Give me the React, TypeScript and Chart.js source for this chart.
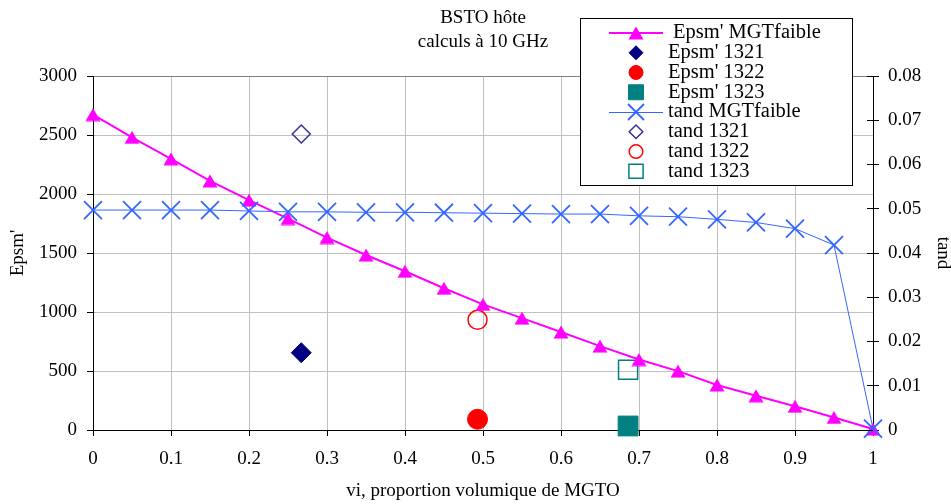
import React, { useEffect, useRef } from 'react';
import { Chart, registerables } from 'chart.js';

Chart.register(...registerables);

// ---------- data ----------
const titleLines = ['BSTO hôte', 'calculs à 10 GHz'];
const xTitle = 'vi, proportion volumique de MGTO';
const yLeftTitle = "Epsm'";
const yRightTitle = 'tand';

const seriesLabels = [
  "Epsm' MGTfaible",
  "Epsm' 1321",
  "Epsm' 1322",
  "Epsm' 1323",
  'tand MGTfaible',
  'tand 1321',
  'tand 1322',
  'tand 1323',
];

const xMGT = [0, 0.05, 0.1, 0.15, 0.2, 0.25, 0.3, 0.35, 0.4, 0.45, 0.5, 0.55, 0.6, 0.65, 0.7, 0.75, 0.8, 0.85, 0.9, 0.95, 1];
const epsMGT = [2673, 2480, 2298, 2111, 1948, 1792, 1631, 1483, 1345, 1201, 1065, 948, 830, 711, 597, 499, 382, 290, 201, 106, 8];
const tandMGT = [0.0497, 0.0497, 0.0497, 0.0497, 0.0495, 0.0493, 0.0493, 0.0492, 0.0492, 0.0491, 0.049, 0.0489, 0.0488, 0.0488, 0.0484, 0.0482, 0.0476, 0.0469, 0.0455, 0.0418, 0.0003];

// samples 1321, 1322, 1323
const sampleX = [0.267, 0.493, 0.686];
const sampleEps = [655, 91, 34];
const sampleTand = [0.0669, 0.0249, 0.0136];

const xTicks = { min: 0, max: 1, step: 0.1 };
const yLeftTicks = { min: 0, max: 3000, step: 500 };
const yRightTicks = { min: 0, max: 0.08, step: 0.01 };

// ---------- helpers ----------
const FONT = '"Liberation Serif", "Times New Roman", serif';

function makeTriangle(color: string) {
  const c = document.createElement('canvas');
  c.width = 16;
  c.height = 14;
  const g = c.getContext('2d')!;
  g.fillStyle = color;
  g.beginPath();
  g.moveTo(8, 0.5);
  g.lineTo(15.5, 13.5);
  g.lineTo(0.5, 13.5);
  g.closePath();
  g.fill();
  return c;
}

function drawMarker(ctx: CanvasRenderingContext2D, style: any, x: number, y: number, r: number, fill: string, stroke: string, lw: number) {
  ctx.save();
  if (typeof style !== 'string') {
    ctx.drawImage(style, x - style.width / 2, y - style.height / 2);
    ctx.restore();
    return;
  }
  ctx.lineWidth = lw;
  ctx.fillStyle = fill;
  ctx.strokeStyle = stroke;
  ctx.beginPath();
  if (style === 'rectRot') {
    ctx.moveTo(x - r, y);
    ctx.lineTo(x, y - r);
    ctx.lineTo(x + r, y);
    ctx.lineTo(x, y + r);
    ctx.closePath();
  } else if (style === 'circle') {
    ctx.arc(x, y, r, 0, Math.PI * 2);
  } else if (style === 'rect') {
    const s = r * Math.SQRT1_2;
    ctx.rect(x - s, y - s, 2 * s, 2 * s);
  } else if (style === 'crossRot') {
    const d = r * Math.SQRT1_2;
    ctx.moveTo(x - d, y - d);
    ctx.lineTo(x + d, y + d);
    ctx.moveTo(x + d, y - d);
    ctx.lineTo(x - d, y + d);
  }
  if (style !== 'crossRot') ctx.fill();
  if (lw > 0) ctx.stroke();
  ctx.restore();
}

const boxLegend = {
  id: 'boxLegend',
  afterDraw(chart: any) {
    const ctx = chart.ctx as CanvasRenderingContext2D;
    ctx.save();
    ctx.fillStyle = '#fff';
    ctx.fillRect(580, 18, 272, 167);
    ctx.strokeStyle = '#000';
    ctx.lineWidth = 1;
    ctx.strokeRect(580.5, 18.5, 272, 167);
    chart.data.datasets.forEach((ds: any, i: number) => {
      const y = 33 + i * 19.75;
      if (ds.showLine) {
        ctx.save();
        ctx.strokeStyle = ds.borderColor;
        ctx.lineWidth = ds.borderWidth;
        const yy = ds.borderWidth % 2 === 1 ? Math.round(y) + 0.5 : Math.round(y);
        ctx.beginPath();
        ctx.moveTo(609, yy);
        ctx.lineTo(663, yy);
        ctx.stroke();
        ctx.restore();
      }
      drawMarker(ctx, ds.pointStyle, 636, y, ds.legendRadius, ds.pointBackgroundColor, ds.pointBorderColor, ds.pointBorderWidth);
      ctx.fillStyle = '#000';
      ctx.font = `20.5px ${FONT}`;
      ctx.textBaseline = 'middle';
      ctx.textAlign = 'left';
      ctx.fillText(ds.label, i === 0 ? 673 : 668, y);
    });
    ctx.restore();
  },
};

const rightInnerTicks = {
  id: 'rightInnerTicks',
  afterDraw(chart: any) {
    const s = chart.scales.y1;
    const ctx = chart.ctx as CanvasRenderingContext2D;
    ctx.save();
    ctx.strokeStyle = '#000';
    ctx.lineWidth = 1;
    ctx.beginPath();
    s.ticks.forEach((t: any) => {
      const py = Math.round(s.getPixelForValue(t.value) - 0.5) + 0.5;
      ctx.moveTo(s.left - 6, py);
      ctx.lineTo(s.left, py);
    });
    ctx.stroke();
    ctx.restore();
  },
};

const tickFont = { family: FONT, size: 19 };
const titleFont = { family: FONT, size: 19, lineHeight: 1.2 };

const App = () => {
  const ref = useRef<HTMLCanvasElement>(null);

  useEffect(() => {
    if (!ref.current) return;
    const tri = makeTriangle('#FF00FF');
    const samplePt = (i: number, ys: number[]) => [{ x: sampleX[i], y: ys[i] }];

    const datasets: any[] = [
      {
        label: seriesLabels[0],
        data: xMGT.map((x, i) => ({ x, y: epsMGT[i] })),
        yAxisID: 'y',
        showLine: true,
        borderColor: '#FF00FF',
        borderWidth: 2,
        pointStyle: tri,
        pointRadius: 8,
        pointBackgroundColor: '#FF00FF',
        pointBorderColor: '#FF00FF',
        pointBorderWidth: 0,
        legendRadius: 8,
      },
      {
        label: seriesLabels[1],
        data: samplePt(0, sampleEps),
        yAxisID: 'y',
        pointStyle: 'rectRot',
        pointRadius: 10,
        pointBackgroundColor: '#000080',
        pointBorderColor: '#000080',
        pointBorderWidth: 1,
        legendRadius: 7,
      },
      {
        label: seriesLabels[2],
        data: samplePt(1, sampleEps),
        yAxisID: 'y',
        pointStyle: 'circle',
        pointRadius: 10,
        pointBackgroundColor: '#FF0000',
        pointBorderColor: '#FF0000',
        pointBorderWidth: 1,
        legendRadius: 7,
      },
      {
        label: seriesLabels[3],
        data: samplePt(2, sampleEps),
        yAxisID: 'y',
        pointStyle: 'rect',
        pointRadius: 14,
        pointBackgroundColor: '#008080',
        pointBorderColor: '#008080',
        pointBorderWidth: 1,
        legendRadius: 10.6,
      },
      {
        label: seriesLabels[4],
        data: xMGT.map((x, i) => ({ x, y: tandMGT[i] })),
        yAxisID: 'y1',
        showLine: true,
        borderColor: '#3366FF',
        borderWidth: 1,
        pointStyle: 'crossRot',
        pointRadius: 12.7,
        pointBackgroundColor: '#3366FF',
        pointBorderColor: '#3366FF',
        pointBorderWidth: 1.8,
        legendRadius: 11.3,
        order: -1,
      },
      {
        label: seriesLabels[5],
        data: samplePt(0, sampleTand),
        yAxisID: 'y1',
        pointStyle: 'rectRot',
        pointRadius: 9,
        pointBackgroundColor: 'rgba(0,0,0,0)',
        pointBorderColor: '#333399',
        pointBorderWidth: 1.5,
        legendRadius: 6.8,
      },
      {
        label: seriesLabels[6],
        data: samplePt(1, sampleTand),
        yAxisID: 'y1',
        pointStyle: 'circle',
        pointRadius: 9.5,
        pointBackgroundColor: 'rgba(0,0,0,0)',
        pointBorderColor: '#FF0000',
        pointBorderWidth: 1.5,
        legendRadius: 6.8,
      },
      {
        label: seriesLabels[7],
        data: samplePt(2, sampleTand),
        yAxisID: 'y1',
        pointStyle: 'rect',
        pointRadius: 13.5,
        pointBackgroundColor: 'rgba(0,0,0,0)',
        pointBorderColor: '#008080',
        pointBorderWidth: 1.5,
        legendRadius: 10,
      },
    ];
    datasets.forEach((d) => {
      d.clip = false;
      d.tension = 0;
      d.pointHoverRadius = d.pointRadius;
    });

    const chart = new Chart(ref.current, {
      type: 'scatter',
      data: { datasets },
      plugins: [rightInnerTicks, boxLegend],
      options: {
        responsive: true,
        maintainAspectRatio: false,
        animation: false,
        devicePixelRatio: 1,
        events: [],
        layout: { padding: 0 },
        plugins: {
          legend: { display: false },
          tooltip: { enabled: false },
          title: {
            display: true,
            text: titleLines,
            color: '#000',
            fullSize: false,
            font: { family: FONT, size: 19, weight: 'normal', lineHeight: '24px' },
            padding: { top: 6, bottom: 22 },
          },
        },
        scales: {
          x: {
            type: 'linear',
            min: xTicks.min,
            max: xTicks.max,
            afterFit: (s: any) => { s.height = 74; },
            ticks: {
              stepSize: xTicks.step,
              color: '#000',
              font: tickFont,
              padding: 12,
              maxRotation: 0,
              callback: (v: any) => {
                const n = Number(v);
                return n === 0 || n === 1 ? String(n) : n.toFixed(1);
              },
            },
            grid: { color: '#c0c0c0', tickColor: '#000', tickLength: 6, lineWidth: 1 },
            border: { color: '#000', width: 1 },
            title: { display: true, text: xTitle, color: '#000', font: titleFont, padding: { top: 0, bottom: 2 } },
          },
          y: {
            type: 'linear',
            position: 'left',
            min: yLeftTicks.min,
            max: yLeftTicks.max,
            afterFit: (s: any) => { s.width = 93; },
            ticks: {
              stepSize: yLeftTicks.step,
              color: '#000',
              font: tickFont,
              padding: 10,
              callback: (v: any) => String(Math.round(Number(v))),
            },
            grid: {
              color: (c: any) => (c.tick && c.tick.value === yLeftTicks.max ? '#808080' : '#c0c0c0'),
              tickColor: '#000',
              tickLength: 6,
            },
            border: { color: '#000', width: 1 },
            title: { display: true, text: yLeftTitle, color: '#000', font: titleFont, padding: { top: 6.6, bottom: 0 } },
          },
          y1: {
            type: 'linear',
            position: 'right',
            min: yRightTicks.min,
            max: yRightTicks.max,
            afterFit: (s: any) => { s.width = 78; },
            ticks: {
              stepSize: yRightTicks.step,
              color: '#000',
              font: tickFont,
              padding: 9,
              callback: (v: any) => {
                const n = Number(v);
                return n === 0 ? '0' : n.toFixed(2);
              },
            },
            grid: { drawOnChartArea: false, tickColor: '#000', tickLength: 6 },
            border: { color: '#000', width: 1 },
            title: { display: true, text: yRightTitle, color: '#000', font: titleFont, padding: { top: -3.5, bottom: 0 } },
          },
        },
      } as any,
    });
    return () => chart.destroy();
  }, []);

  return (
    <div style={{ position: 'fixed', left: 0, top: 0, width: 951, height: 504, background: '#fff' }}>
      <canvas ref={ref} />
    </div>
  );
};

export default App;
